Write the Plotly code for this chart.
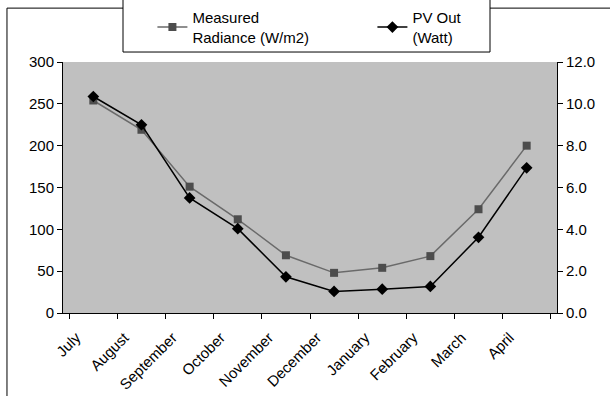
import plotly.graph_objects as go

months = ["July", "August", "September", "October", "November", "December",
          "January", "February", "March", "April"]
radiance = [254, 219, 151, 112, 69, 48, 54, 68, 124, 200]
pv_out = [10.35, 9.0, 5.5, 4.03, 1.73, 1.03, 1.14, 1.27, 3.62, 6.94]

fig = go.Figure()
fig.add_trace(go.Scatter(
    x=months, y=radiance, name="Measured<br>Radiance (W/m2)",
    mode="lines+markers",
    line=dict(color="#6a6a6a", width=1.5),
    marker=dict(symbol="square", size=8, color="#4d4d4d", line=dict(width=0)),
    yaxis="y"))
fig.add_trace(go.Scatter(
    x=months, y=pv_out, name="PV Out<br>(Watt)",
    mode="lines+markers",
    line=dict(color="black", width=1.5),
    marker=dict(symbol="diamond", size=9, color="black", line=dict(width=0)),
    yaxis="y2"))

font = dict(family="Liberation Sans", size=15, color="black")

fig.update_layout(
    width=610, height=396,
    margin=dict(l=63, r=53, t=62, b=82.5, autoexpand=False),
    paper_bgcolor="white", plot_bgcolor="#c0c0c0",
    font=font,
    showlegend=True,
    legend=dict(orientation="h", x=0.181, y=(313.5 - 1) / 251.5, xanchor="left", yanchor="top",
                bgcolor="rgba(0,0,0,0)", borderwidth=0,
                entrywidth=175, entrywidthmode="pixels",
                font=dict(family="Liberation Sans", size=15)),
    xaxis=dict(showgrid=False, showline=True, linecolor="black", linewidth=1,
               ticks="outside", ticklen=5, tickcolor="black", tickson="boundaries",
               tickangle=-45, mirror=False, zeroline=False,
               ticklabelshift=-17, ticklabelstandoff=9),
    yaxis=dict(range=[0, 300], dtick=50, showgrid=False, showline=True,
               linecolor="black", ticks="outside", ticklen=5, tickcolor="black",
               zeroline=False),
    yaxis2=dict(range=[0, 12], dtick=2, tickformat=".1f", overlaying="y", side="right",
                showgrid=False, showline=True, linecolor="black", ticks="outside",
                ticklen=5, tickcolor="black", zeroline=False),
    shapes=[
        dict(type="rect", xref="paper", yref="paper", x0=-0.1134, x1=1.3, y0=-0.5, y1=1.2147,
             line=dict(color="black", width=1), fillcolor="rgba(0,0,0,0)", layer="below"),
        dict(type="rect", xref="paper", yref="paper", x0=(123-63)/494, x1=(490-63)/494,
             y0=(313.5-52)/251.5, y1=1.3, line=dict(color="black", width=1),
             fillcolor="white", layer="above"),
    ],
)
fig.write_html("out.html")
